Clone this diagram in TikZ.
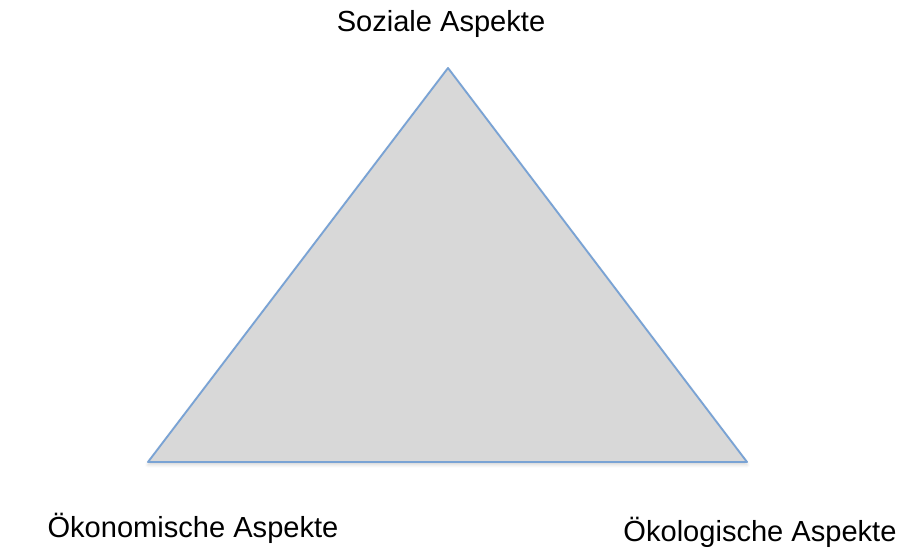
\documentclass[tikz,border=0pt]{standalone}
\usepackage{fontspec}
\setmainfont{Liberation Sans}
\usepackage{xcolor}
\usepackage{tikz}
\usetikzlibrary{shadows.blur}

\begin{document}
\begin{tikzpicture}[x=0.75pt,y=0.75pt,yscale=-1,xscale=1]
\useasboundingbox (0,0) rectangle (914,559);

%Shape: Triangle
\coordinate (top) at (448,68);
\coordinate (left) at (148,462);
\coordinate (right) at (747,462);
\draw [color={rgb, 255:red, 122; green, 163; blue, 212 }, draw opacity=1, line width=1.4pt, line join=round][fill={rgb, 255:red, 216; green, 216; blue, 216 }, fill opacity=1][blur shadow={shadow xshift=0pt, shadow yshift=-2pt, shadow blur radius=2.5pt, shadow opacity=18}] (top) -- (right) -- (left) -- cycle ;

% Text Node
\node (sozial) [anchor=base][inner sep=0.75pt][font=\fontsize{21.8}{26}\selectfont] at (441,32) {Soziale Aspekte};
% Text Node
\node (oekonom) [anchor=base][inner sep=0.75pt][font=\fontsize{21.8}{26}\selectfont] at (193,537) {Ökonomische Aspekte};
% Text Node
\node (oekolog) [anchor=base][inner sep=0.75pt][font=\fontsize{21.8}{26}\selectfont] at (760,541) {Ökologische Aspekte};

\end{tikzpicture}
\end{document}
